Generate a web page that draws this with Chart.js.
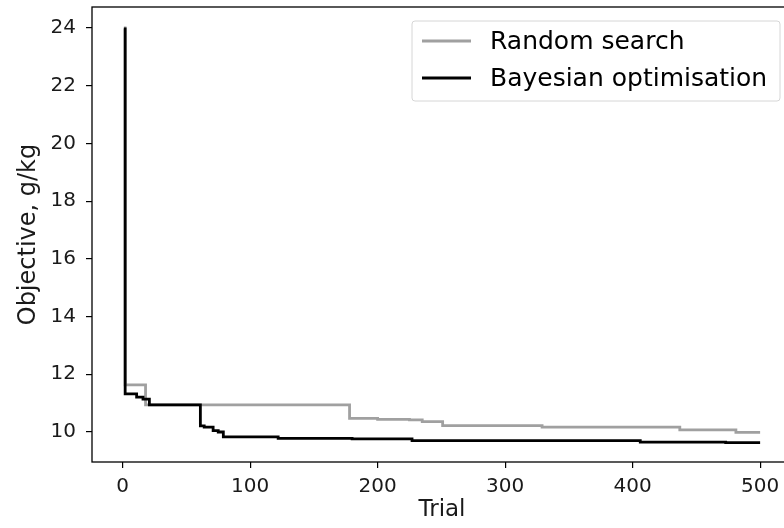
<!DOCTYPE html>
<html>
<head>
<meta charset="utf-8">
<script src="https://cdn.jsdelivr.net/npm/chart.js@4.4.1/dist/chart.umd.min.js"></script>
<style>
  html, body { margin: 0; padding: 0; background: #fff; overflow: hidden; width: 784px; height: 528px; }
  #wrap { width: 800px; height: 528px; }
</style>
</head>
<body>
<div id="wrap"><canvas id="c" width="800" height="528"></canvas></div>
<script>
// Data (best objective so far, step changes)
const randomTrials = [1, 2, 18, 178, 200, 225, 235, 251, 329, 437, 481, 500];
const randomValues = [24.0, 11.63, 10.94, 10.47, 10.44, 10.42, 10.36, 10.22, 10.17, 10.07, 9.99, 9.99];
const bayesTrials = [1, 2, 11, 16, 21, 61, 64, 71, 75, 79, 122, 180, 227, 406, 473, 500];
const bayesValues = [23.97, 11.32, 11.21, 11.14, 10.94, 10.21, 10.17, 10.05, 10.0, 9.83, 9.78, 9.76, 9.70, 9.65, 9.63, 9.63];
const xTicks = [0, 100, 200, 300, 400, 500];
const yTicks = [10, 12, 14, 16, 18, 20, 22, 24];
const seriesNames = ["Random search", "Bayesian optimisation"];
const xTitle = "Trial";
const yTitle = "Objective, g/kg";

const FONT = "'DejaVu Sans', 'Liberation Sans', sans-serif";

const toPts = (xs, ys) => xs.map((x, i) => ({ x: x, y: ys[i] }));

const framePlugin = {
  id: 'frame',
  afterDatasetsDraw(chart) {
    const { ctx, chartArea: a } = chart;
    ctx.save();
    ctx.strokeStyle = '#000';
    ctx.lineWidth = 1.3;
    ctx.strokeRect(a.left, a.top, a.right - a.left, a.bottom - a.top);
    ctx.restore();
  }
};

const legendPlugin = {
  id: 'mplLegend',
  afterDraw(chart) {
    const { ctx, chartArea: a } = chart;
    const x0 = a.left + 320, y0 = a.top + 14, x1 = a.right - 12, y1 = a.top + 94;
    ctx.save();
    ctx.fillStyle = 'rgba(255,255,255,0.85)';
    ctx.strokeStyle = '#d6d6d6';
    ctx.lineWidth = 1;
    const r = 3;
    ctx.beginPath();
    ctx.moveTo(x0 + r, y0);
    ctx.lineTo(x1 - r, y0); ctx.quadraticCurveTo(x1, y0, x1, y0 + r);
    ctx.lineTo(x1, y1 - r); ctx.quadraticCurveTo(x1, y1, x1 - r, y1);
    ctx.lineTo(x0 + r, y1); ctx.quadraticCurveTo(x0, y1, x0, y1 - r);
    ctx.lineTo(x0, y0 + r); ctx.quadraticCurveTo(x0, y0, x0 + r, y0);
    ctx.closePath();
    ctx.fill(); ctx.stroke();
    ctx.font = '25px ' + FONT;
    ctx.textBaseline = 'middle';
    ctx.textAlign = 'left';
    chart.data.datasets.forEach((ds, i) => {
      const y = y0 + 20 + i * 37;
      ctx.strokeStyle = ds.borderColor;
      ctx.lineWidth = ds.borderWidth;
      ctx.beginPath();
      ctx.moveTo(x0 + 10, y);
      ctx.lineTo(x0 + 59, y);
      ctx.stroke();
      ctx.fillStyle = '#000';
      ctx.fillText(ds.label, x0 + 78, y + 1);
    });
    ctx.restore();
  }
};

new Chart(document.getElementById('c'), {
  type: 'line',
  data: {
    datasets: [
      { label: seriesNames[0], data: toPts(randomTrials, randomValues), borderColor: '#a0a0a0', borderWidth: 2.8, stepped: 'before', pointRadius: 0, fill: false, order: 2 },
      { label: seriesNames[1], data: toPts(bayesTrials, bayesValues), borderColor: '#000000', borderWidth: 2.8, stepped: 'before', pointRadius: 0, fill: false, order: 1 }
    ]
  },
  options: {
    responsive: false,
    animation: false,
    layout: { padding: { top: 7, right: 8, left: 0, bottom: 0 } },
    plugins: { legend: { display: false }, tooltip: { enabled: false } },
    scales: {
      x: {
        type: 'linear',
        min: -24, max: 525,
        afterBuildTicks: s => { s.ticks = xTicks.map(v => ({ value: v })); },
        afterFit: s => { s.height = 66; s.paddingLeft = 0; s.paddingRight = 0; s.paddingTop = 0; s.paddingBottom = 0; },
        grid: { display: true, drawOnChartArea: false, drawTicks: true, tickLength: 6, color: '#000', lineWidth: 1.2 },
        border: { display: false },
        ticks: { color: '#1a1a1a', font: { family: FONT, size: 20 }, padding: 7, maxRotation: 0, autoSkip: false },
        title: { display: true, text: xTitle, color: '#1a1a1a', font: { family: FONT, size: 23 }, padding: { top: 0, bottom: 4 } }
      },
      y: {
        type: 'linear',
        min: 8.96, max: 24.728,
        afterBuildTicks: s => { s.ticks = yTicks.map(v => ({ value: v })); },
        afterFit: s => { s.width = 92; s.paddingTop = 0; s.paddingBottom = 0; s.paddingLeft = 0; s.paddingRight = 0; },
        grid: { display: true, drawOnChartArea: false, drawTicks: true, tickLength: 6, color: '#000', lineWidth: 1.2 },
        border: { display: false },
        ticks: { color: '#1a1a1a', font: { family: FONT, size: 20 }, padding: 10, autoSkip: false },
        title: { display: true, text: yTitle, color: '#1a1a1a', font: { family: FONT, size: 24 }, padding: { top: 14, bottom: 0 } }
      }
    }
  },
  plugins: [framePlugin, legendPlugin]
});
</script>
</body>
</html>
